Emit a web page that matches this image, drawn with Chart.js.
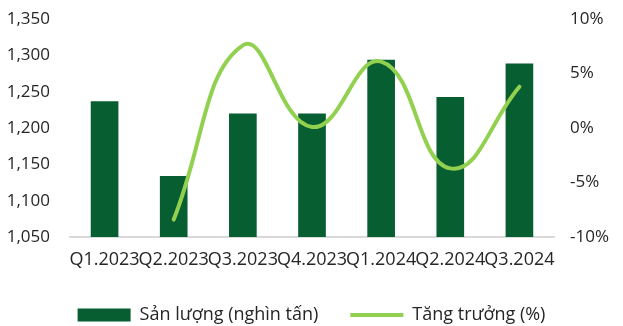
<!DOCTYPE html>
<html>
<head>
<meta charset="utf-8">
<script src="https://cdn.jsdelivr.net/npm/chart.js@4.4.1/dist/chart.umd.min.js"></script>
<style>
  html, body { margin: 0; padding: 0; background: #fff; }
  #wrap { position: relative; width: 623px; height: 326px; overflow: hidden; }
  #inner { position: absolute; left: 0; top: -11px; width: 623px; height: 337px; }
</style>
</head>
<body>
<div id="wrap"><div id="inner"><canvas id="c"></canvas></div></div>
<script>
// quarters on the x axis
const quarters = ["Q1.2023", "Q2.2023", "Q3.2023", "Q4.2023", "Q1.2024", "Q2.2024", "Q3.2024"];
// output, thousand tonnes (left axis)
const output = [1237, 1134, 1220, 1220, 1294, 1243, 1289];
// growth, % (right axis) - first quarter has no value
const growth = [null, -8.4, 7.6, 0.1, 6.1, -3.7, 3.8];

const FONT = "'Open Sans', sans-serif";
const TXT = "#262626";

const ctx = document.getElementById("c").getContext("2d");
new Chart(ctx, {
  data: {
    labels: quarters,
    datasets: [
      {
        type: "line",
        label: "Tăng trưởng (%)",
        data: growth,
        yAxisID: "y1",
        borderColor: "#92d050",
        backgroundColor: "#92d050",
        borderWidth: 4,
        pointRadius: 0,
        pointStyle: "line",
        tension: 0.45,
        borderCapStyle: "round",
        order: 0
      },
      {
        type: "bar",
        label: "Sản lượng (nghìn tấn)",
        data: output,
        yAxisID: "y",
        backgroundColor: "#075e30",
        pointStyle: "rect",
        categoryPercentage: 0.8,
        barPercentage: 0.5,
        order: 1
      }
    ]
  },
  options: {
    responsive: true,
    maintainAspectRatio: false,
    animation: false,
    layout: { padding: 0 },
    plugins: {
      tooltip: { enabled: false },
      legend: {
        position: "bottom",
        reverse: true,
        maxHeight: 52,
        labels: {
          usePointStyle: true,
          pointStyleWidth: 53,
          boxHeight: 13,
          padding: 32,
          color: TXT,
          font: { family: FONT, size: 18 }
        }
      }
    },
    scales: {
      x: {
        grid: { display: false, drawTicks: false },
        border: { color: "#d9d9d9", width: 2 },
        ticks: {
          color: TXT,
          padding: 12,
          maxRotation: 0,
          autoSkip: false,
          font: { family: FONT, size: 18 }
        },
        afterFit: s => { s.height = 37; }
      },
      y: {
        position: "left",
        min: 1050,
        max: 1350,
        grid: { display: false, drawTicks: false },
        border: { display: false },
        ticks: {
          stepSize: 50,
          padding: 20,
          color: TXT,
          font: { family: FONT, size: 17 },
          callback: v => v.toLocaleString("en-US")
        },
        afterFit: s => { s.width = 70; }
      },
      y1: {
        position: "right",
        min: -10,
        max: 10,
        grid: { display: false, drawTicks: false },
        border: { display: false },
        ticks: {
          stepSize: 5,
          padding: 16,
          color: TXT,
          font: { family: FONT, size: 17 },
          callback: v => v + "%"
        },
        afterFit: s => { s.width = 69; }
      }
    }
  }
});
</script>
</body>
</html>
